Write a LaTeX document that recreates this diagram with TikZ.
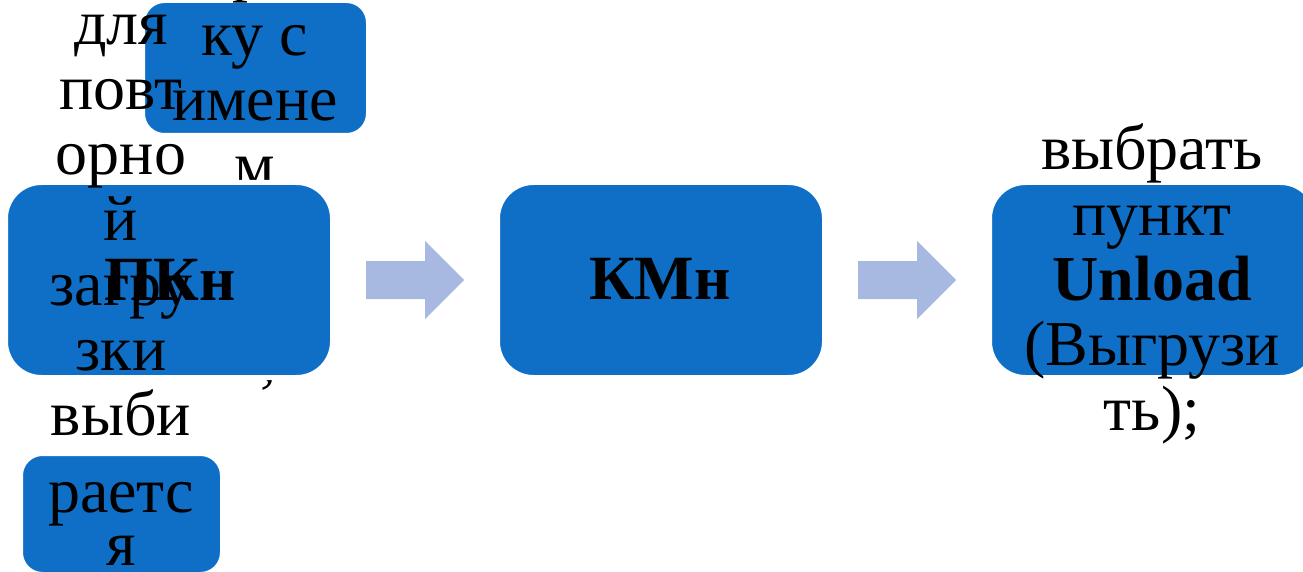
\documentclass[tikz,border=0pt]{standalone}
\usepackage{fontspec}
\setmainfont{Liberation Serif}
\definecolor{boxblue}{HTML}{0F6FC6}
\definecolor{arrowblue}{HTML}{A7B9E1}
\begin{document}
\begin{tikzpicture}[x=1pt,y=-1pt,
  box/.style={rectangle, fill=boxblue, draw=white, line width=5pt, rounded corners=#1, inner sep=0pt},
  box/.default=36pt,
  txt/.style={font=\fontsize{64}{65}\selectfont, anchor=base, inner sep=0pt, text=black},
  lbl/.style={font=\fontsize{63}{65}\selectfont\bfseries, text=black},
  blockarrow/.style={fill=arrowblue}]
\useasboundingbox[fill=white] (0,0) rectangle (1303,572);
% top small box
\node[box=22pt, minimum width=226pt, minimum height=135pt] (topbox) at (255.5,68) {};
% middle column text (behind the ПКн box)
\node[txt] (m0) at (248,-10) {р};
\foreach \t/\y [count=\i] in {ку с/56, имене/121, м/186}
  \node[txt] (m\i) at (255,\y) {\t};
\node[txt] (mcomma) at (268,380) {,};
% main boxes
\node[box, minimum width=327pt, minimum height=195pt] (pk) at (169,280) {};
\node[box, minimum width=327pt, minimum height=195pt] (km) at (661,280) {};
\node[box, minimum width=327pt, minimum height=195pt] (un) at (1153,280) {};
\node[lbl, anchor=base] (pklbl) at (170,300) {ПКн};
\node[lbl, anchor=base] (kmlbl) at (660,299) {КМн};
% block arrows
\coordinate (a1) at (366,280);
\coordinate (a2) at (858,280);
\foreach \a in {a1,a2}
  \fill[blockarrow] (\a) ++(0,-19) -- ++(59,0) -- ++(0,-20) -- ++(39,39)
     -- ++(-39,39) -- ++(0,-20) -- ++(-59,0) -- cycle;
% bottom small box
\node[box=22pt, minimum width=202pt, minimum height=121pt] (botbox) at (121.5,514) {};
% left column text
\foreach \t/\y [count=\i] in {для/45, повт/110, орно/175, й/240, загру/305, зки/370, выби/435, раетс/512, я/565}
  \node[txt] (l\i) at (121,\y) {\t};
% right column text
\node[txt] (r1) at (1152,170) {выбрать};
\node[txt] (r2) at (1152,235) {пункт};
\node[txt] (r3) at (1152,300) {\bfseries Unload};
\node[txt] (r4) at (1152,365) {(Выгрузи};
\node[txt] (r5) at (1152,430) {ть);};
\end{tikzpicture}
\end{document}
